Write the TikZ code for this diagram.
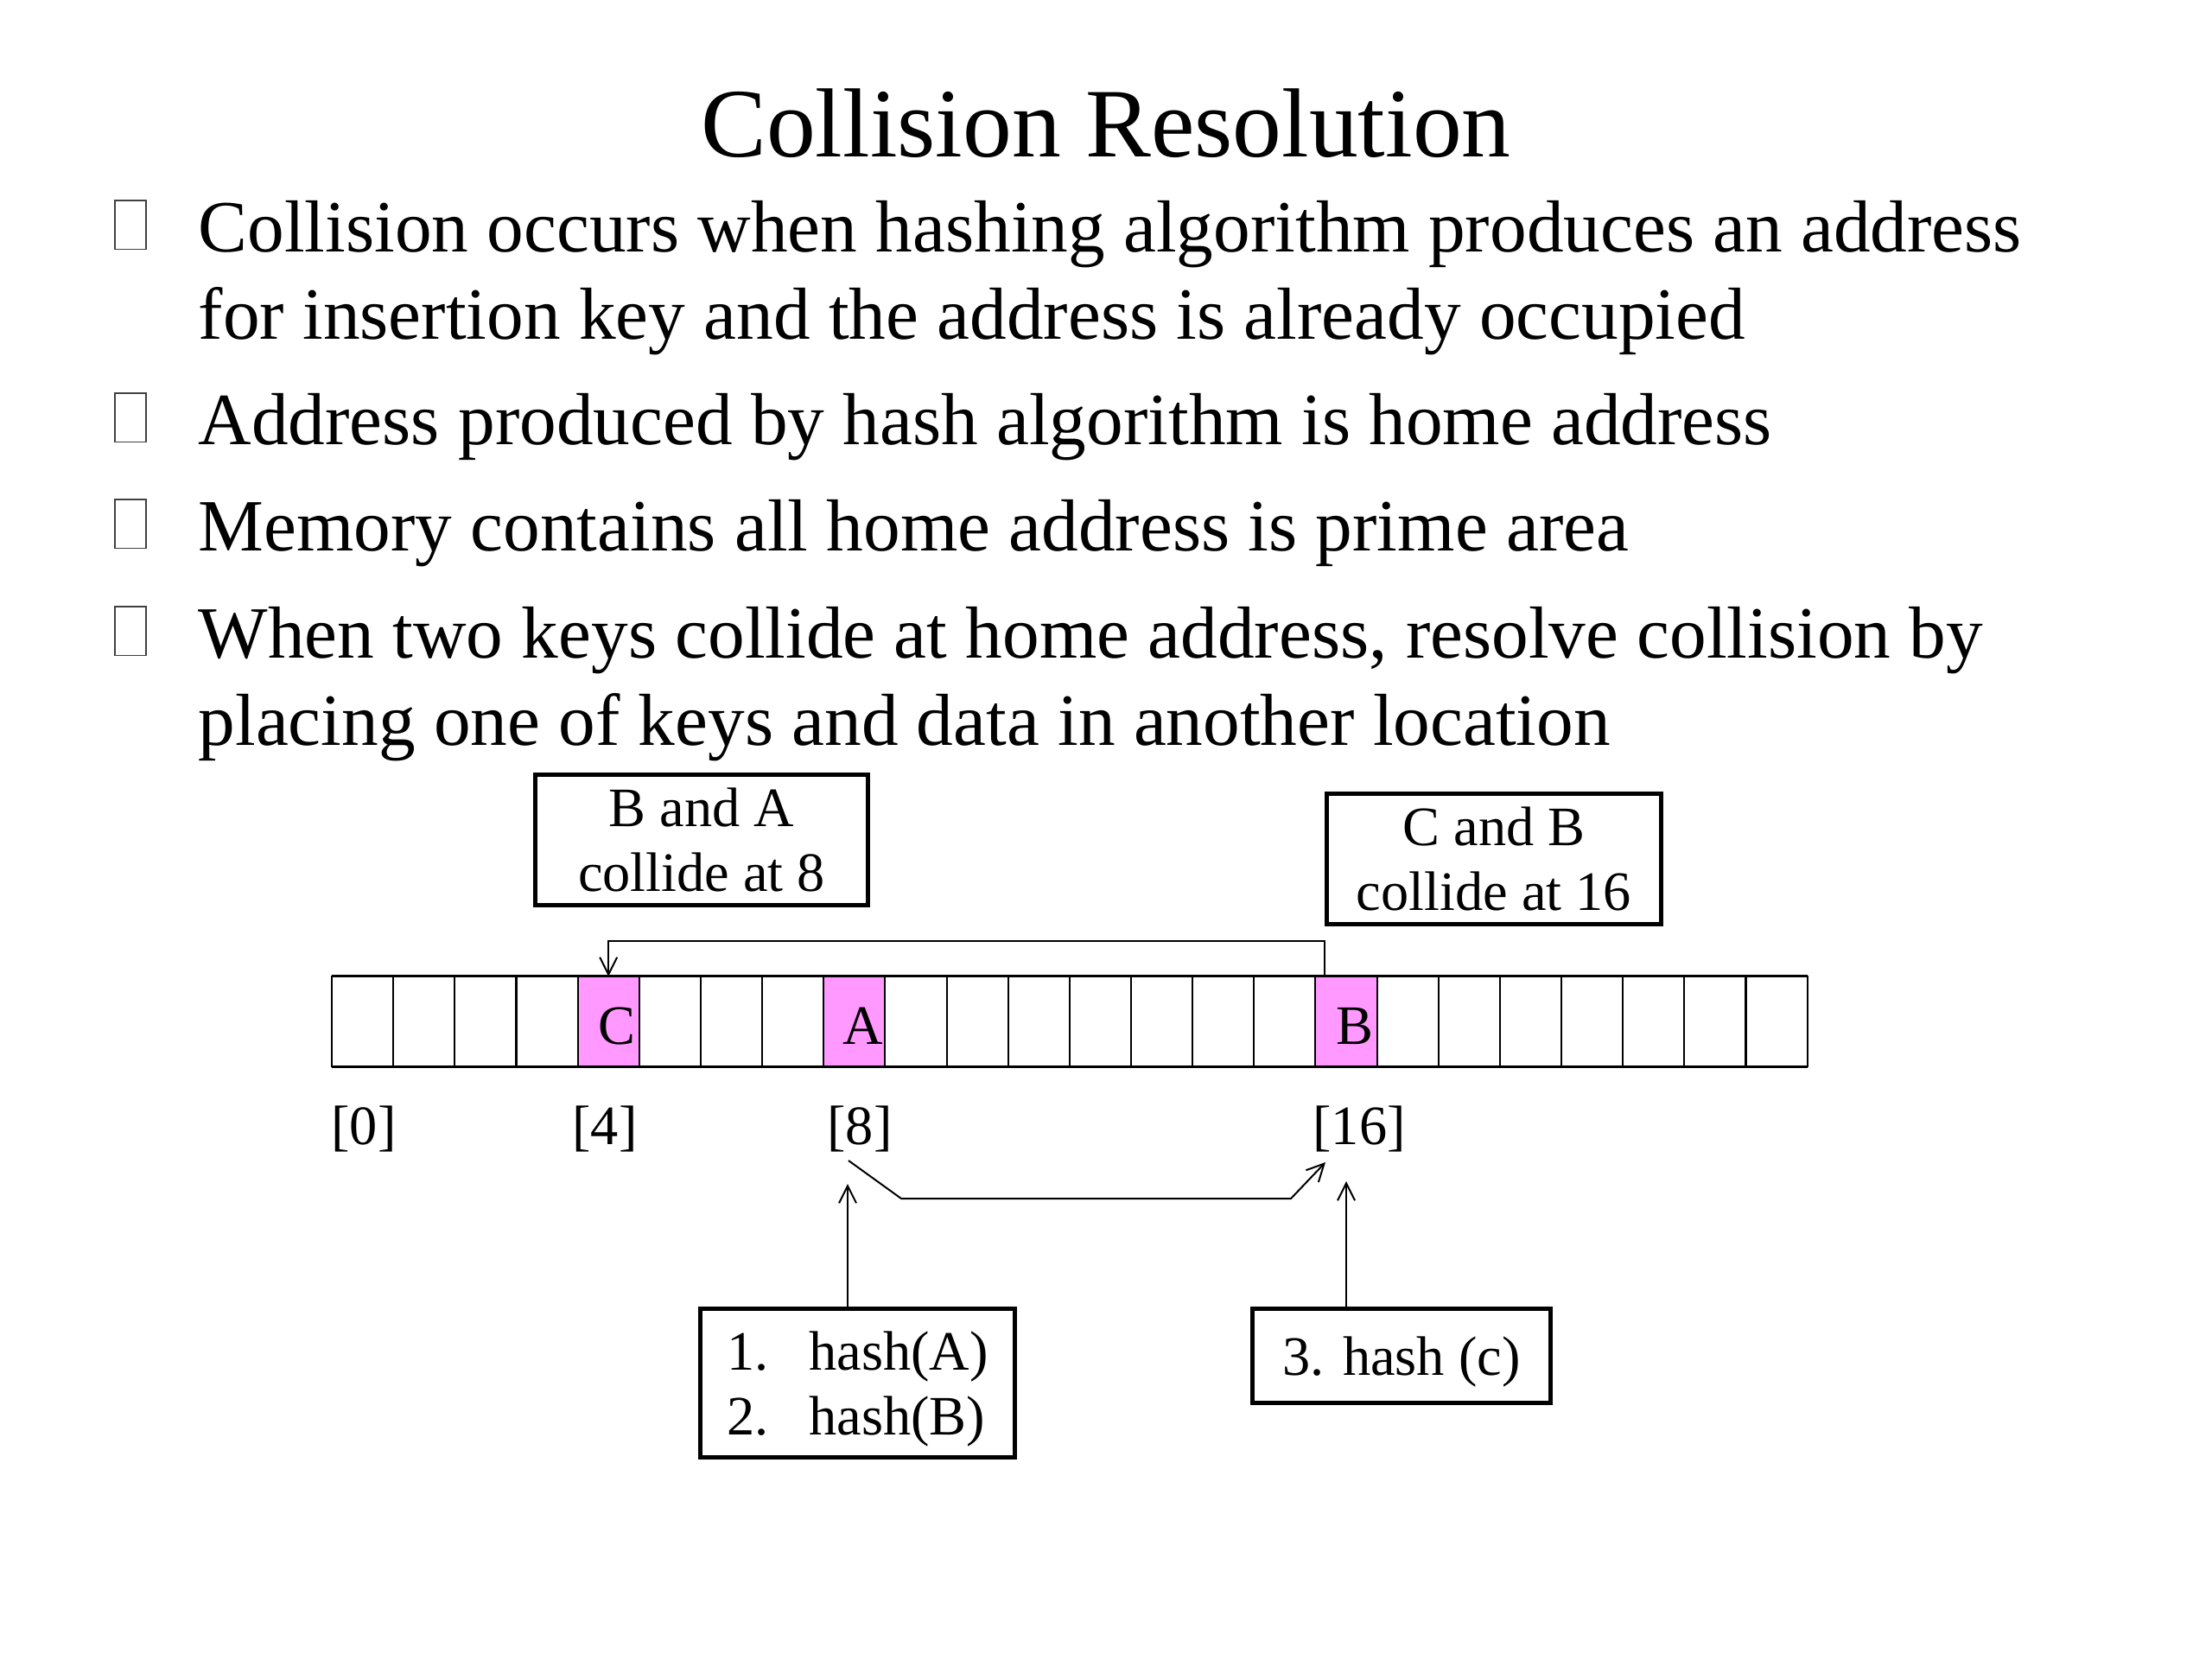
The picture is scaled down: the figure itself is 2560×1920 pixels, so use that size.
\documentclass[tikz,border=0pt]{standalone}
\usepackage{fontspec}
\setmainfont{Liberation Serif}
\usetikzlibrary{arrows.meta,positioning}
\definecolor{keypink}{RGB}{255,153,255}
\begin{document}
\begin{tikzpicture}[x=0.01cm, y=-0.01cm,
  line/.style={anchor=base west, inner sep=0, font=\fontsize{24.25}{29}\selectfont},
  bulletbox/.style={draw=black!75, line width=0.15mm, anchor=south west, minimum width=0.36cm, minimum height=0.56cm, inner sep=0},
  note/.style={draw=black, line width=0.5mm, inner sep=0, font=\fontsize{18.3}{21.3}\selectfont, align=center},
  cell/.style={draw=black, line width=0.2mm, minimum width=0.7115cm, minimum height=1.04cm, inner sep=0, outer sep=0},
  keylbl/.style={inner sep=0, font=\fontsize{18.3}{21.6}\selectfont},
  idx/.style={anchor=base, inner sep=0, font=\fontsize{18.3}{21.6}\selectfont},
  link/.style={line width=0.2mm, -{Straight Barb[length=2mm, width=2mm]}}]
\useasboundingbox (0,0) rectangle (2560,1920);

\node[anchor=base, inner sep=0, font=\fontsize{32.3}{38}\selectfont] (title) at (1280,181) {Collision Resolution};

\node[bulletbox] (b1) at (132,289) {};
\node[line] (t1a) at (229,291) {Collision occurs when hashing algorithm produces an address};
\node[line] (t1b) at (229,392) {for insertion key and the address is already occupied};
\node[bulletbox] (b2) at (132,512) {};
\node[line] (t2) at (229,514) {Address produced by hash algorithm is home address};
\node[bulletbox] (b3) at (132,635) {};
\node[line] (t3) at (229,637) {Memory contains all home address is prime area};
\node[bulletbox] (b4) at (132,759) {};
\node[line] (t4a) at (229,761) {When two keys collide at home address, resolve collision by};
\node[line] (t4b) at (229,862) {placing one of keys and data in another location};

\foreach \i in {0,...,23}
  \node[cell] (cell\i) at ({419.6+71.15*\i},1182) {};
\foreach \i/\k in {4/C,8/A,16/B}{
  \node[cell, fill=keypink] (key\k) at (cell\i) {};
  \node[keylbl] (lbl\k) at ([xshift=0.1cm, yshift=-0.05cm]key\k.center) {\k};
}
\draw[line width=0.3mm] (cell0.north west) -- (cell23.north east)
  (cell0.south west) -- (cell23.south east);

\node[idx] (ix0) at (421,1324) {[0]};
\node[idx] (ix4) at (700,1324) {[4]};
\node[idx] (ix8) at (995,1324) {[8]};
\node[idx] (ix16) at (1573,1324) {[16]};

\node[note, minimum width=3.84cm, minimum height=1.51cm] (collA) at (812,972) {B and A\\collide at 8};
\node[note, minimum width=3.86cm, minimum height=1.50cm] (collB) at (1729,994) {C and B\\collide at 16};
\node[note, minimum width=3.63cm, minimum height=1.71cm, align=left, text depth=0pt] (hashAB) at (992.5,1600.5)
  {\makebox[0.95cm][l]{1.}hash(A)\\\makebox[0.95cm][l]{2.}hash(B)};
\node[note, minimum width=3.44cm, minimum height=1.08cm, text depth=0pt] (hashC) at (1622,1569) {3. hash (c)};

\draw[link] (collB.west |- cell16.north) -- ++(0,-41) -| (cell4.north);
\coordinate (tip8) at (981,1370);
\coordinate (tip16) at (1558,1367);
\draw[link] (hashAB.north -| tip8) -- (tip8);
\draw[link] (hashC.north -| tip16) -- (tip16);
\coordinate (from8) at (982,1343);
\coordinate (to16) at (1534,1345);
\draw[link] (from8) -- (1043,1387) -- (1494,1387) -- (to16);
\end{tikzpicture}
\end{document}
